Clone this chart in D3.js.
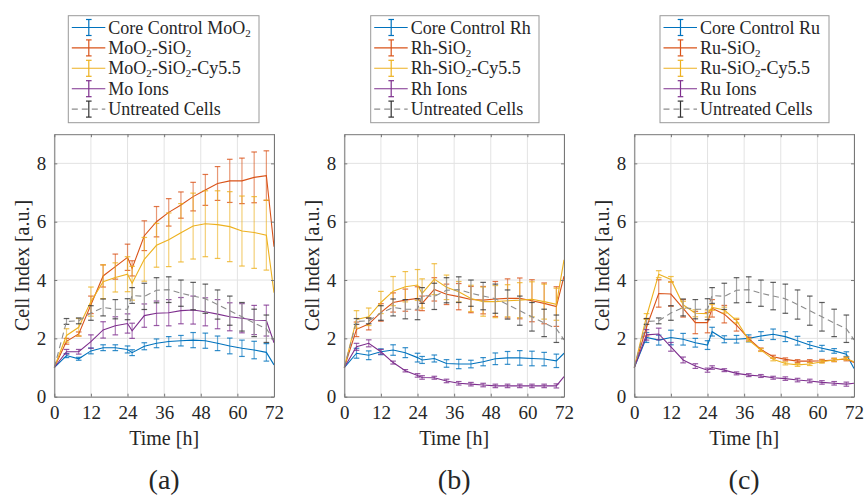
<!DOCTYPE html>
<html>
<head>
<meta charset="utf-8">
<script src="https://cdn.jsdelivr.net/npm/d3@7"></script>
<style>
  body { margin: 0; background: #fff; }
  svg text { font-family: "Liberation Serif", "Times New Roman", "DejaVu Serif", serif; fill: #262626; }
</style>
</head>
<body>
<div id="chart"></div>
<script>
// time points [h]
var time = [0,4,8,12,16,20,24,25.5,29.5,33.5,37.5,41.5,45.5,49.5,53.5,57.5,61.5,65.5,69.5,72];

// shared control
var untreated    = [1,2.58,2.6,2.87,3.06,3.0,3.0,3.47,3.44,3.65,3.67,3.55,3.45,3.36,3.16,2.95,2.74,2.53,2.33,1.95];
var untreatedErr = [0,0.1,0.1,0.25,0.29,0.33,0.36,0.27,0.45,0.43,0.44,0.45,0.47,0.5,0.5,0.5,0.49,0.47,0.47,null];

// (a) MoO2
var moCore     = [1,1.41,1.3,1.57,1.68,1.68,1.62,1.51,1.73,1.83,1.89,1.92,1.94,1.92,1.83,1.74,1.66,1.6,1.52,1.09];
var moCoreErr  = [0,0.07,0.05,0.1,0.1,0.1,0.12,0.1,0.12,0.15,0.17,0.18,0.26,0.26,0.25,0.27,0.28,0.3,0.3,null];
var moSi       = [1,1.9,2.15,3.15,4.14,4.46,4.78,4.4,5.52,6.0,6.32,6.57,6.86,7.09,7.31,7.4,7.4,7.52,7.58,5.14];
var moSiErr    = [0,0.1,0.07,0.3,0.38,0.43,0.45,0.26,0.51,0.52,0.47,0.45,0.49,0.53,0.58,0.74,0.78,0.87,0.85,null];
var moCy       = [1,2.1,2.38,3.26,3.94,4.09,4.2,3.89,4.71,5.19,5.38,5.62,5.85,5.93,5.9,5.83,5.68,5.63,5.54,3.57];
var moCyErr    = [0,0.23,0.3,0.5,0.58,0.5,0.6,0.58,0.75,0.75,0.92,1.0,1.13,1.13,1.16,1.2,1.2,1.23,1.2,null];
var moIons     = [1,1.54,1.54,1.89,2.29,2.43,2.51,2.26,2.78,2.86,2.88,2.95,2.97,2.91,2.83,2.74,2.69,2.63,2.61,1.85];
var moIonsErr  = [0,0.08,0.08,0.23,0.28,0.31,0.33,0.26,0.4,0.42,0.45,0.45,0.48,0.48,0.5,0.48,0.5,0.5,0.53,null];

// (b) Rh
var rhCore     = [1,1.49,1.42,1.54,1.6,1.51,1.34,1.26,1.31,1.14,1.12,1.12,1.2,1.3,1.33,1.33,1.31,1.29,1.23,1.49];
var rhCoreErr  = [0,0.17,0.15,0.1,0.18,0.17,0.15,0.12,0.12,0.13,0.16,0.13,0.14,0.2,0.22,0.25,0.25,0.23,0.23,null];
var rhSi       = [1,2.31,2.49,2.89,3.23,3.31,3.37,3.2,3.68,3.51,3.43,3.33,3.31,3.35,3.37,3.37,3.29,3.2,3.09,4.13];
var rhSiErr    = [0,0.25,0.2,0.3,0.33,0.38,0.4,0.25,0.4,0.35,0.45,0.45,0.47,0.6,0.67,0.7,0.72,0.7,0.68,null];
var rhCy       = [1,2.65,2.74,3.23,3.62,3.77,3.83,3.54,4.03,3.75,3.6,3.37,3.26,3.26,3.29,3.31,3.34,3.26,3.17,4.69];
var rhCyErr    = [0,0.3,0.3,0.38,0.5,0.52,0.53,0.5,0.53,0.42,0.35,0.45,0.5,0.55,0.55,0.6,0.6,0.6,0.55,null];
var rhIons     = [1,1.71,1.83,1.54,1.17,0.89,0.73,0.66,0.65,0.54,0.46,0.43,0.4,0.37,0.37,0.37,0.37,0.37,0.37,0.69];
var rhIonsErr  = [0,0.12,0.12,0.08,0.05,0.04,0.06,0.06,0.05,0.06,0.06,0.06,0.06,0.06,0.06,0.06,0.06,0.06,0.07,null];

// (c) Ru
var ruCore     = [1,2.03,1.94,2.03,1.97,1.85,1.77,2.23,1.97,1.97,2.0,2.08,2.14,2.06,1.92,1.77,1.66,1.57,1.46,0.97];
var ruCoreErr  = [0,0.17,0.17,0.25,0.2,0.15,0.15,0.15,0.12,0.13,0.12,0.15,0.18,0.17,0.15,0.12,0.1,0.08,0.08,null];
var ruSi       = [1,2.38,3.54,3.52,3.03,2.54,2.54,3.03,2.83,2.45,1.99,1.62,1.37,1.28,1.22,1.22,1.23,1.26,1.29,1.17];
var ruSiErr    = [0,0.3,0.47,0.42,0.3,0.38,0.35,0.3,0.3,0.2,0.05,0.05,0.05,0.05,0.05,0.05,0.05,0.06,0.06,null];
var ruCy       = [1,2.75,4.2,4.02,3.15,2.86,2.85,3.06,2.97,2.61,1.94,1.6,1.28,1.14,1.09,1.12,1.2,1.26,1.31,1.2];
var ruCyErr    = [0,0.1,0.12,0.1,0.12,0.12,0.12,0.1,0.1,0.08,0.05,0.05,0.05,0.05,0.05,0.05,0.05,0.05,0.05,null];
var ruIons     = [1,2.12,2.15,1.71,1.26,1.05,0.91,1.0,0.91,0.8,0.74,0.71,0.65,0.62,0.57,0.54,0.49,0.46,0.43,0.46];
var ruIonsErr  = [0,0.18,0.2,0.15,0.1,0.08,0.07,0.06,0.05,0.05,0.05,0.05,0.05,0.06,0.06,0.06,0.06,0.06,0.07,null];

var xTicks = [0,12,24,36,48,60,72];
var yTicks = [0,2,4,6,8];
var panelNames = ["(a)", "(b)", "(c)"];

// legend labels, "_2" marks a subscript 2
var panels = [
  { series: [
      { name: "Core Control MoO_2", y: moCore, e: moCoreErr },
      { name: "MoO_2-SiO_2", y: moSi, e: moSiErr },
      { name: "MoO_2-SiO_2-Cy5.5", y: moCy, e: moCyErr },
      { name: "Mo Ions", y: moIons, e: moIonsErr },
      { name: "Untreated Cells", y: untreated, e: untreatedErr } ] },
  { series: [
      { name: "Core Control Rh", y: rhCore, e: rhCoreErr },
      { name: "Rh-SiO_2", y: rhSi, e: rhSiErr },
      { name: "Rh-SiO_2-Cy5.5", y: rhCy, e: rhCyErr },
      { name: "Rh Ions", y: rhIons, e: rhIonsErr },
      { name: "Untreated Cells", y: untreated, e: untreatedErr } ] },
  { series: [
      { name: "Core Control Ru", y: ruCore, e: ruCoreErr },
      { name: "Ru-SiO_2", y: ruSi, e: ruSiErr },
      { name: "Ru-SiO_2-Cy5.5", y: ruCy, e: ruCyErr },
      { name: "Ru Ions", y: ruIons, e: ruIonsErr },
      { name: "Untreated Cells", y: untreated, e: untreatedErr } ] }
];

var colors = ["#0072BD", "#D95319", "#EDB120", "#7E2F8E", "#8c8c8c"];
var capColors = ["#0072BD", "#D95319", "#EDB120", "#7E2F8E", "#333333"];

var W = 865, H = 497;
var svg = d3.select("#chart").append("svg").attr("width", W).attr("height", H);

var plotLeft = [54.3, 344.3, 634.3];
var plotW = 219.7, plotTop = 134.2, plotBottom = 396.7;
var legendLeft = [68.3, 370.7, 660];
var legendW = [190.7, 168.3, 169];

function addLabel(sel, name) {
  var parts = name.split("_2");
  parts.forEach(function(p, i) {
    sel.append("tspan").text(p).attr("dy", i > 0 ? -3 : null);
    if (i < parts.length - 1) {
      sel.append("tspan").text("2").attr("font-size", 11).attr("dy", 3);
    }
  });
}

panels.forEach(function(panel, pi) {
  var x = d3.scaleLinear().domain([0, 72]).range([plotLeft[pi], plotLeft[pi] + plotW]);
  var y = d3.scaleLinear().domain([0, 9]).range([plotBottom, plotTop]);
  var g = svg.append("g");

  // grid
  g.selectAll(".gx").data(xTicks).enter().append("line")
    .attr("x1", function(d) { return x(d); }).attr("x2", function(d) { return x(d); })
    .attr("y1", plotTop).attr("y2", plotBottom)
    .attr("stroke", "#e3e3e3").attr("stroke-width", 1);
  g.selectAll(".gy").data(yTicks).enter().append("line")
    .attr("x1", plotLeft[pi]).attr("x2", plotLeft[pi] + plotW)
    .attr("y1", function(d) { return y(d); }).attr("y2", function(d) { return y(d); })
    .attr("stroke", "#e3e3e3").attr("stroke-width", 1);

  // data
  var line = d3.line().x(function(d) { return x(d[0]); }).y(function(d) { return y(d[1]); });
  panel.series.forEach(function(s, si) {
    var pts = time.map(function(t, i) { return [t, s.y[i], s.e[i]]; });
    var sg = g.append("g");
    var bars = pts.filter(function(d) { return d[2]; });
    sg.selectAll(".bar").data(bars).enter().append("line")
      .attr("x1", function(d) { return x(d[0]); }).attr("x2", function(d) { return x(d[0]); })
      .attr("y1", function(d) { return y(d[1] - d[2]); }).attr("y2", function(d) { return y(d[1] + d[2]); })
      .attr("stroke", si === 4 ? "#999" : colors[si]).attr("stroke-opacity", si === 4 ? 0.9 : 0.6)
      .attr("stroke-width", 1.2);
    [-1, 1].forEach(function(sgn) {
      sg.selectAll(".cap" + sgn).data(bars).enter().append("line")
        .attr("x1", function(d) { return x(d[0]) - 2.8; }).attr("x2", function(d) { return x(d[0]) + 2.8; })
        .attr("y1", function(d) { return y(d[1] + sgn * d[2]); }).attr("y2", function(d) { return y(d[1] + sgn * d[2]); })
        .attr("stroke", capColors[si]).attr("stroke-opacity", 0.8)
        .attr("stroke-width", 1.2);
    });
    sg.append("path").datum(pts).attr("d", line)
      .attr("fill", "none").attr("stroke", colors[si]).attr("stroke-width", 1.1)
      .attr("stroke-dasharray", si === 4 ? "6,4" : null);
  });

  // axes
  var ax = g.append("g").attr("transform", "translate(0," + plotBottom + ")")
    .call(d3.axisBottom(x).tickValues(xTicks).tickSize(-3).tickPadding(9).tickSizeOuter(0));
  var axT = g.append("g").attr("transform", "translate(0," + plotTop + ")")
    .call(d3.axisTop(x).tickValues(xTicks).tickSize(-3).tickFormat("").tickSizeOuter(0));
  var ay = g.append("g").attr("transform", "translate(" + plotLeft[pi] + ",0)")
    .call(d3.axisLeft(y).tickValues(yTicks).tickSize(-3).tickPadding(8).tickSizeOuter(0));
  var ayR = g.append("g").attr("transform", "translate(" + (plotLeft[pi] + plotW) + ",0)")
    .call(d3.axisRight(y).tickValues(yTicks).tickSize(-3).tickFormat("").tickSizeOuter(0));
  [ax, axT, ay, ayR].forEach(function(a) {
    a.attr("font-family", null);
    a.select(".domain").attr("stroke", "#777").attr("stroke-width", 1);
    a.selectAll(".tick line").attr("stroke", "#777");
    a.selectAll("text").attr("font-size", 19).attr("fill", "#262626");
  });

  // axis titles
  svg.append("text").attr("x", x(36)).attr("y", 445).attr("text-anchor", "middle")
    .attr("font-size", 20).text("Time [h]");
  svg.append("text").attr("transform", "translate(" + (plotLeft[pi] - 25) + "," + ((plotTop + plotBottom) / 2) + ") rotate(-90)")
    .attr("text-anchor", "middle").attr("font-size", 20).text("Cell Index [a.u.]");
  svg.append("text").attr("x", x(36)).attr("y", 489).attr("text-anchor", "middle")
    .attr("font-size", 28).text(panelNames[pi]);

  // legend
  var lx = legendLeft[pi], ly = 15.7;
  var lg = svg.append("g");
  lg.append("rect").attr("x", lx).attr("y", ly).attr("width", legendW[pi]).attr("height", 107)
    .attr("fill", "#fff").attr("stroke", "#999").attr("stroke-width", 1);
  panel.series.forEach(function(s, si) {
    var cy = 27.5 + si * 20.4;
    lg.append("line").attr("x1", lx + 3.5).attr("x2", lx + 37).attr("y1", cy).attr("y2", cy)
      .attr("stroke", colors[si]).attr("stroke-width", 1.1).attr("stroke-dasharray", si === 4 ? "6,4" : null);
    lg.append("line").attr("x1", lx + 20.5).attr("x2", lx + 20.5).attr("y1", cy - 8).attr("y2", cy + 8)
      .attr("stroke", capColors[si]).attr("stroke-width", 1.2);
    [-8, 8].forEach(function(o) {
      lg.append("line").attr("x1", lx + 17.7).attr("x2", lx + 23.3).attr("y1", cy + o).attr("y2", cy + o)
        .attr("stroke", capColors[si]).attr("stroke-width", 1.2);
    });
    var t = lg.append("text").attr("x", lx + 40).attr("y", cy + 6).attr("font-size", 18);
    addLabel(t, s.name);
  });
});
</script>
</body>
</html>
